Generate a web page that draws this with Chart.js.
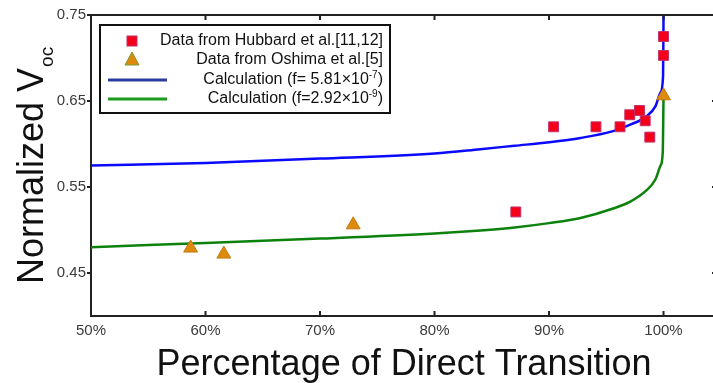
<!DOCTYPE html>
<html>
<head>
<meta charset="utf-8">
<script src="https://cdn.jsdelivr.net/npm/chart.js@4.4.1/dist/chart.umd.min.js"></script>
<style>
  html, body { margin: 0; padding: 0; background: #fff; overflow: hidden; }
  #wrap { width: 713px; height: 383px; overflow: hidden; }
</style>
</head>
<body>
<!-- canvas is a bit wider than the window: the right edge of the axes box is cut off as in the original -->
<div id="wrap"><canvas id="vocChart" width="726" height="383"></canvas></div>
<script>
// Measured points (percentage of direct transition, normalized Voc)
const hubbardPct = [87.1, 90.4, 94.1, 96.2, 97.05, 97.9, 98.4, 98.8, 100, 100];
const hubbardVoc = [0.521, 0.620, 0.620, 0.620, 0.634, 0.639, 0.627, 0.608, 0.725, 0.703];

const oshimaPct = [58.7, 61.6, 72.9, 100];
const oshimaVoc = [0.479, 0.472, 0.506, 0.656];

// Calculated curves
const blueCalcPct = [50, 60, 70, 80, 84, 87, 90, 92.75, 95.6, 97.2, 98.5, 99.3, 99.74, 99.96, 100];
const blueCalcVoc = [0.575, 0.578, 0.583, 0.589, 0.594, 0.598, 0.602, 0.607, 0.615, 0.623, 0.632, 0.644, 0.660, 0.679, 0.75];

const greenCalcPct = [50, 60, 70, 80, 84, 87, 90, 92.75, 95.6, 97.1, 98.5, 99.3, 99.74, 99.93, 100];
const greenCalcVoc = [0.480, 0.485, 0.490, 0.496, 0.4995, 0.503, 0.508, 0.514, 0.525, 0.533, 0.546, 0.559, 0.575, 0.590, 0.655];

// Tick labels
const xTickValues = [50, 60, 70, 80, 90, 100];
const yTickValues = [0.45, 0.55, 0.65, 0.75];

const legendLabels = [
  'Data from Hubbard et al.[11,12]',
  'Data from Oshima et al.[5]',
  'Calculation (f= 5.81\u00d710|-7|)',
  'Calculation (f=2.92\u00d710|-9|)'
];

function toPoints(xs, ys) {
  return xs.map((x, i) => ({ x: x, y: ys[i] }));
}

const FONT = "'Liberation Sans', Arial, sans-serif";

// box round the plot, inner tick marks and the y title with subscript
const framePlugin = {
  id: 'frame',
  afterDraw(chart) {
    const { ctx, chartArea: a, scales } = chart;
    ctx.save();
    ctx.strokeStyle = '#222';
    ctx.lineWidth = 2;
    ctx.beginPath();
    ctx.moveTo(a.left, a.top);
    ctx.lineTo(a.right, a.top);
    ctx.lineTo(a.right, a.bottom);
    ctx.stroke();
    ctx.beginPath();
    scales.x.ticks.forEach(t => {
      const px = scales.x.getPixelForValue(t.value);
      ctx.moveTo(px, a.bottom);
      ctx.lineTo(px, a.bottom - 5);
      ctx.moveTo(px, a.top);
      ctx.lineTo(px, a.top + 5);
    });
    scales.y.ticks.forEach(t => {
      const py = scales.y.getPixelForValue(t.value);
      ctx.moveTo(a.right, py);
      ctx.lineTo(a.right - 5, py);
    });
    ctx.stroke();

    // y axis title
    ctx.translate(43, 284);
    ctx.rotate(-Math.PI / 2);
    ctx.fillStyle = '#111';
    ctx.textAlign = 'left';
    ctx.textBaseline = 'alphabetic';
    ctx.font = '36px ' + FONT;
    const main = 'Normalized V';
    ctx.fillText(main, 0, 0);
    const w = ctx.measureText(main).width;
    ctx.font = '19px ' + FONT;
    ctx.fillText('oc', w + 1, 10);
    ctx.restore();
  }
};

// legend box in the upper left corner
const legendBoxPlugin = {
  id: 'legendBox',
  afterDatasetsDraw(chart) {
    const ctx = chart.ctx;
    const ds = chart.data.datasets;
    const box = { l: 100, t: 25, r: 390, b: 113 };
    const rows = [41, 60, 80, 99];
    ctx.save();
    ctx.fillStyle = '#fff';
    ctx.fillRect(box.l, box.t, box.r - box.l, box.b - box.t);
    ctx.strokeStyle = '#111';
    ctx.lineWidth = 2;
    ctx.strokeRect(box.l, box.t, box.r - box.l, box.b - box.t);

    // markers
    ctx.fillStyle = ds[0].backgroundColor;
    ctx.strokeStyle = ds[0].borderColor;
    ctx.lineWidth = 1;
    ctx.fillRect(127, rows[0] - 5, 10, 10);
    ctx.strokeRect(127, rows[0] - 5, 10, 10);
    ctx.beginPath();
    ctx.moveTo(132, rows[1] - 8);
    ctx.lineTo(139, rows[1] + 5);
    ctx.lineTo(125, rows[1] + 5);
    ctx.closePath();
    ctx.fillStyle = ds[1].backgroundColor;
    ctx.fill();
    ctx.strokeStyle = '#7a9a30';
    ctx.stroke();

    ctx.lineWidth = 3;
    ctx.strokeStyle = '#2c3c9e';
    ctx.beginPath();
    ctx.moveTo(108, rows[2]);
    ctx.lineTo(167, rows[2]);
    ctx.stroke();
    ctx.strokeStyle = '#1e9a1e';
    ctx.beginPath();
    ctx.moveTo(108, rows[3]);
    ctx.lineTo(167, rows[3]);
    ctx.stroke();

    // texts, right aligned, with |..| marking a superscript
    ctx.fillStyle = '#111';
    ctx.textBaseline = 'middle';
    ctx.textAlign = 'left';
    legendLabels.forEach((label, i) => {
      const parts = label.split('|');
      let total = 0;
      parts.forEach((p, j) => {
        ctx.font = (j % 2 ? '10px ' : '16px ') + FONT;
        total += ctx.measureText(p).width;
      });
      let x = 383 - total;
      parts.forEach((p, j) => {
        ctx.font = (j % 2 ? '10px ' : '16px ') + FONT;
        ctx.fillText(p, x, rows[i] + (j % 2 ? -5 : 0));
        x += ctx.measureText(p).width;
      });
    });
    ctx.restore();
  }
};

const chart = new Chart(document.getElementById('vocChart'), {
  type: 'scatter',
  data: {
    datasets: [{
      label: 'Data from Hubbard et al.[11,12]',
      data: toPoints(hubbardPct, hubbardVoc),
      pointStyle: 'rect',
      pointRadius: 7,
      backgroundColor: '#f5001a',
      borderColor: '#c0306a',
      borderWidth: 1
    }, {
      label: 'Data from Oshima et al.[5]',
      data: toPoints(oshimaPct, oshimaVoc),
      pointStyle: 'triangle',
      pointRadius: 8,
      backgroundColor: '#de8a0c',
      borderColor: '#c47a10',
      borderWidth: 1
    }, {
      label: 'Calculation (f= 5.81x10-7)',
      data: toPoints(blueCalcPct, blueCalcVoc),
      showLine: true,
      pointRadius: 0,
      borderColor: '#0a0aff',
      borderWidth: 2.5,
      cubicInterpolationMode: 'monotone'
    }, {
      label: 'Calculation (f=2.92x10-9)',
      data: toPoints(greenCalcPct, greenCalcVoc),
      showLine: true,
      pointRadius: 0,
      borderColor: '#0c820c',
      borderWidth: 2.5,
      cubicInterpolationMode: 'monotone'
    }]
  },
  options: {
    responsive: false,
    animation: false,
    layout: { padding: { top: 15, right: 0, left: 0, bottom: 0 } },
    plugins: {
      legend: { display: false },
      tooltip: { enabled: false }
    },
    scales: {
      x: {
        type: 'linear',
        min: 50,
        max: 104.67,
        afterBuildTicks: s => { s.ticks = xTickValues.map(v => ({ value: v })); },
        afterFit: s => { s.height = 67; },
        grid: { display: false },
        border: { display: true, color: '#222', width: 2 },
        ticks: {
          callback: v => v + '%',
          color: '#3a3a3a',
          font: { family: FONT, size: 15 },
          padding: -2,
          maxRotation: 0
        },
        title: {
          display: true,
          text: 'Percentage of Direct Transition',
          color: '#111',
          font: { family: FONT, size: 36, lineHeight: 1 },
          padding: { top: 7, bottom: 0 }
        }
      },
      y: {
        min: 0.4,
        max: 0.75,
        afterBuildTicks: s => { s.ticks = yTickValues.map(v => ({ value: v })); },
        afterFit: s => { s.width = 91; },
        grid: { drawOnChartArea: false, drawTicks: true, tickLength: 4, color: '#222', lineWidth: 2 },
        border: { display: true, color: '#222', width: 2 },
        ticks: {
          callback: v => v.toFixed(2),
          color: '#3a3a3a',
          font: { family: FONT, size: 15 },
          padding: 1
        }
      }
    }
  },
  plugins: [framePlugin, legendBoxPlugin]
});
</script>
</body>
</html>
